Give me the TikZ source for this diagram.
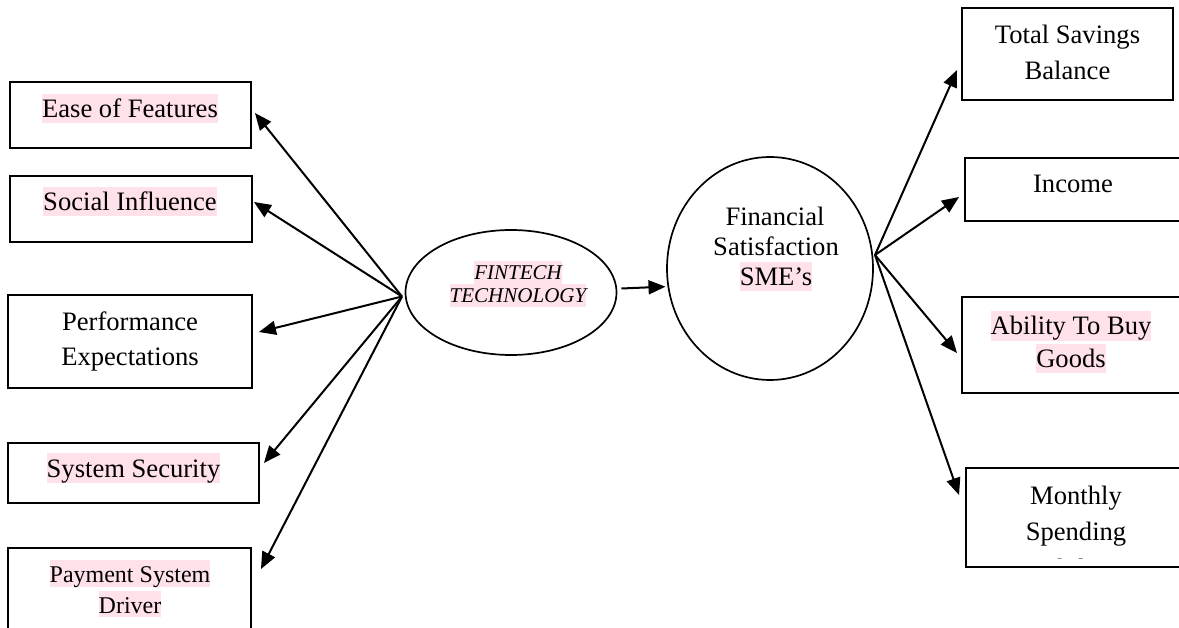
\documentclass[tikz,border=0pt]{standalone}
\usepackage{fontspec}
\setmainfont{Liberation Serif}
\usetikzlibrary{arrows.meta,shapes.geometric}
\definecolor{hlpink}{RGB}{255,225,234}
\newcommand\hlt[1]{{\setlength{\fboxsep}{0pt}\colorbox{hlpink}{\rule[-0.18em]{0pt}{1.08em}#1}}}
\newcommand\mainfs{\fontsize{26.6}{30}\selectfont}
\newcommand\payfs{\fontsize{24}{30}\selectfont}
\newcommand\finfs{\fontsize{21}{24}\selectfont\itshape}
\tikzset{
  boxnode/.style={draw, line width=1.9pt, rectangle, inner sep=0pt},
  ovalnode/.style={draw, line width=1.7pt, ellipse, inner sep=0pt},
  txt/.style={anchor=base, inner sep=0pt, font=\mainfs},
  arr/.style={-{Triangle[length=17pt,width=14pt]}, line width=2pt},
}
\begin{document}
\begin{tikzpicture}[x=1pt,y=-1pt]
\useasboundingbox (0,0) rectangle (1179,628);
\clip (0,0) rectangle (1179,628);
\fill[white] (0,0) rectangle (1179,628);

% left boxes
\node[boxnode, minimum width=241pt, minimum height=66pt] (ease) at (130.5,115) {};
\node[boxnode, minimum width=242pt, minimum height=66pt] (social) at (131,209) {};
\node[boxnode, minimum width=244pt, minimum height=93pt] (perf) at (130,341.5) {};
\node[boxnode, minimum width=251pt, minimum height=60pt] (secu) at (133.5,473) {};
\node[boxnode, minimum width=243pt, minimum height=97pt] (pay) at (129.5,596.5) {};

\node[txt] (easeT) at (130,118) {\hlt{Ease of Features}};
\node[txt] (socialT) at (130,211) {\hlt{Social Influence}};
\node[txt] (perfT1) at (130,331) {Performance};
\node[txt] (perfT2) at (130,366) {Expectations};
\node[txt] (secuT) at (133.5,477) {\hlt{System Security}};
\node[txt, font=\payfs] (payT1) at (130,582) {\hlt{Payment System}};
\node[txt, font=\payfs] (payT2) at (130,613) {\hlt{Driver}};

% centre
\node[ovalnode, minimum width=211pt, minimum height=125pt] (fin) at (511,292.5) {};
\node[txt, font=\finfs] (finT1) at (518,280) {\hlt{FINTECH}};
\node[txt, font=\finfs] (finT2) at (518,303) {\hlt{TECHNOLOGY}};

\node[ovalnode, minimum width=206pt, minimum height=223pt] (fsat) at (770,268.5) {};
\node[txt] (fsatT1) at (775,226) {Financial};
\node[txt] (fsatT2) at (776,256) {Satisfaction};
\node[txt] (fsatT3) at (776,286) {\hlt{SME’s}};

% right boxes
\node[boxnode, minimum width=211pt, minimum height=92pt] (total) at (1067.5,54) {};
\node[boxnode, minimum width=216pt, minimum height=63pt] (income) at (1073,189.5) {};
\node[boxnode, minimum width=218pt, minimum height=96pt] (ability) at (1071,345) {};
\node[boxnode, minimum width=220pt, minimum height=99pt] (monthly) at (1076,517.5) {};

\node[txt] (totalT1) at (1067.5,44) {Total Savings};
\node[txt] (totalT2) at (1067.5,80) {Balance};
\node[txt] (incomeT) at (1073,193) {Income};
\node[txt] (abilityT1) at (1071,335) {\hlt{Ability To Buy}};
\node[txt] (abilityT2) at (1071,368) {\hlt{Goods}};
\node[txt] (monthlyT1) at (1076,504) {Monthly};
\node[txt] (monthlyT2) at (1076,540) {Spending};
\begin{scope}
\clip (966,468) rectangle (1186,558.5);
\node[txt] (monthlyT3) at (1076,577) {Ability};
\end{scope}

% connectors
\coordinate (src) at (402,296.5);
\coordinate (src2) at (875,255);
\draw[arr] (src) -- ([xshift=3pt,yshift=2pt]ease.east);
\draw[arr] (src) -- ([xshift=1pt,yshift=7pt]social.east);
\draw[arr] (src) -- ([xshift=6pt,yshift=9.5pt]perf.east);
\draw[arr] (src) -- ([xshift=4pt,yshift=10pt]secu.east);
\draw[arr] (src) -- ([xshift=9pt,yshift=-22pt]pay.north east);

\draw[arr, shorten >=2pt] ([xshift=4pt,yshift=4pt]fin.east) -- (fsat.190);

\draw[arr] (src2) -- ([xshift=-4pt,yshift=-16pt]total.west);
\draw[arr] (src2) -- ([xshift=-5pt,yshift=-7.5pt]income.west);
\draw[arr] (src2) -- ([xshift=-4pt,yshift=-8pt]ability.west);
\draw[arr] (src2) -- ([xshift=-6pt,yshift=22.5pt]monthly.west);
\end{tikzpicture}
\end{document}
